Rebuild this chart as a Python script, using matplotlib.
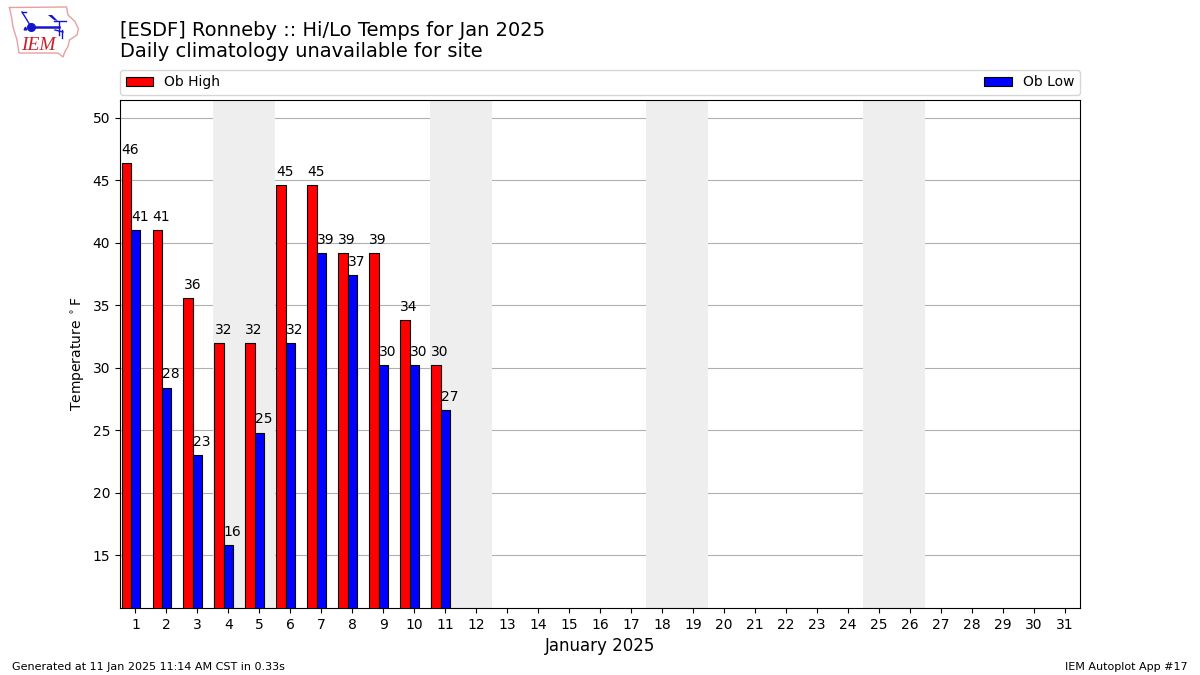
import matplotlib
matplotlib.use("Agg")
import matplotlib.pyplot as plt

days = list(range(1, 32))
obs_days = [1, 2, 3, 4, 5, 6, 7, 8, 9, 10, 11]
highs = [46.4, 41.0, 35.6, 32.0, 32.0, 44.6, 44.6, 39.2, 39.2, 33.8, 30.2]
lows = [41.0, 28.4, 23.0, 15.8, 24.8, 32.0, 39.2, 37.4, 30.2, 30.2, 26.6]
weekends = [(3.5, 5.5), (10.5, 12.5), (17.5, 19.5), (24.5, 26.5)]
yticks = [15, 20, 25, 30, 35, 40, 45, 50]

# logo outline, in pixels of the picture
iowa_x = [9.5, 66.5, 68, 75, 78.5, 77, 69.5, 68, 65, 63, 58, 19, 17, 13, 11.5, 9.5]
iowa_y = [7.5, 7, 15, 21.5, 29, 35, 40, 46.5, 51.5, 57, 53, 53, 40, 27, 17, 7.5]

W, H = 1200, 675
fig = plt.figure(figsize=(12, 6.75), dpi=100)
ax = fig.add_axes([120 / W, 1 - 608 / H, 960 / W, 508 / H])

for start, end in weekends:
    ax.axvspan(start, end, color="#eeeeee", lw=0, zorder=1)

ax.bar([d - 0.3 for d in obs_days], highs, width=0.3, color="red",
       edgecolor="black", linewidth=0.8, label="Ob High", zorder=3)
ax.bar(obs_days, lows, width=0.3, color="blue",
       edgecolor="black", linewidth=0.8, label="Ob Low", zorder=3)

for d, val in zip(obs_days, highs):
    ax.text(d - 0.45, val + 0.5, f"{val:.0f}", ha="left", va="bottom", fontsize=10, zorder=4)
for d, val in zip(obs_days, lows):
    ax.text(d - 0.15, val + 0.5, f"{val:.0f}", ha="left", va="bottom", fontsize=10, zorder=4)

ax.set_xlim(0.5, 31.5)
ax.set_ylim(10.76, 51.44)
ax.set_xticks(days)
ax.set_yticks(yticks)
ax.tick_params(labelsize=10)
ax.yaxis.grid(True, color="#b0b0b0", linewidth=0.8, zorder=2)
ax.set_axisbelow(True)
ax.set_xlabel("January 2025", fontsize=12)
ax.set_ylabel(r"Temperature $^\circ$F", fontsize=10)

ax.legend(loc="lower left", bbox_to_anchor=(0, 1.0098, 1, 0.05), ncol=2, mode="expand",
          fontsize=10, borderaxespad=0)

fig.text(120 / W, 1 - 35.5 / H, "[ESDF] Ronneby :: Hi/Lo Temps for Jan 2025", fontsize=14, va="baseline")
fig.text(120 / W, 1 - 57 / H, "Daily climatology unavailable for site", fontsize=14, va="baseline")
fig.text(12 / W, 1 - 670 / H, "Generated at 11 Jan 2025 11:14 AM CST in 0.33s", fontsize=8, va="baseline")
fig.text(1188 / W, 1 - 670 / H, "IEM Autoplot App #17", fontsize=8, ha="right", va="baseline")

# small IEM logo
logo = fig.add_axes([0, 1 - 65 / H, 90 / W, 65 / H])
logo.set_xlim(0, 90)
logo.set_ylim(65, 0)
logo.axis("off")
logo.plot(iowa_x, iowa_y, color="#e6a0a0", lw=1)
logo.plot([31, 59], [26.5, 26.5], color="#1515d0", lw=1.8)
logo.plot([22, 30], [12, 25], color="#1515d0", lw=1)
logo.plot([22, 26], [12, 12], color="#1515d0", lw=1)
logo.plot([59, 59], [22, 35], color="#1515d0", lw=1)
logo.plot([55, 63], [30, 32], color="#1515d0", lw=1)
logo.plot([62, 62], [30, 38], color="#1515d0", lw=1)
logo.fill([48, 52, 58, 54], [15, 15, 21, 20], color="#1515d0", lw=0)
logo.plot([54, 66], [21, 21], color="#1515d0", lw=1)
logo.plot([31], [26.5], "o", color="#1515d0", ms=5.5)
logo.plot([25], [28], "^", color="#1515d0", ms=2)
logo.text(21, 45, "IEM", color="#c8202a", fontsize=14, family="Liberation Serif",
          style="italic", va="center")

fig.savefig("out.png", dpi=100)
